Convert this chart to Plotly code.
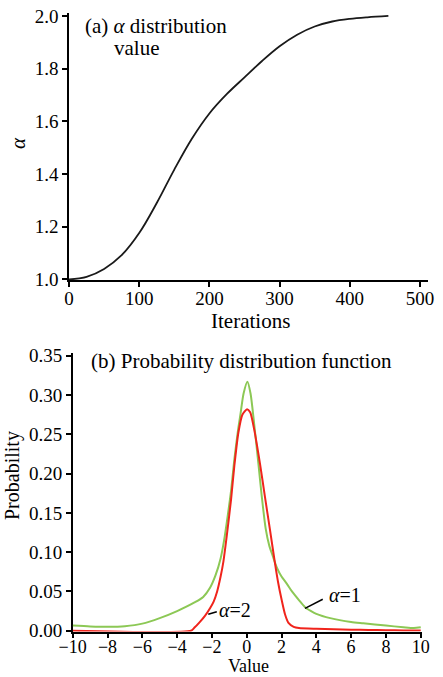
import plotly.graph_objects as go

W, H = 443, 677

# ---------------- data ----------------
iterations = [0, 25, 50, 75, 100, 125, 150, 175, 200, 225, 250, 275, 300, 325, 350, 375, 400, 425, 455]
alpha_vals = [1.000, 1.010, 1.040, 1.092, 1.176, 1.290, 1.417, 1.534, 1.630, 1.704, 1.767, 1.829,
              1.885, 1.929, 1.960, 1.979, 1.989, 1.995, 2.000]

green_x = [-10, -9, -8, -7, -6, -5, -4, -3, -2.5, -2.1, -1.8, -1.5, -1.3, -1.1, -0.9, -0.7, -0.5,
           -0.35, -0.18, 0.04, 0.22, 0.42, 0.67, 0.86, 1.09, 1.3, 1.5, 1.72, 2.0, 2.3, 2.6, 3.0,
           3.35, 3.7, 4.0, 4.8, 6.0, 6.7, 8.0, 9.0, 9.6, 10]
green_y = [0.0065, 0.0055, 0.005, 0.0058, 0.009, 0.016, 0.025, 0.036, 0.043, 0.055, 0.070, 0.092,
           0.115, 0.145, 0.178, 0.220, 0.255, 0.277, 0.302, 0.317, 0.302, 0.265, 0.213, 0.172,
           0.130, 0.108, 0.095, 0.081, 0.069, 0.060, 0.050, 0.039, 0.030, 0.025, 0.0215, 0.016,
           0.011, 0.0094, 0.0065, 0.0045, 0.0035, 0.0045]

red_x = [-10, -3.2, -3.0, -2.7, -2.4, -2.1, -1.9, -1.7, -1.5, -1.34, -1.15, -0.9, -0.71, -0.48,
         -0.25, 0.02, 0.2, 0.44, 0.76, 1.05, 1.34, 1.63, 1.8, 2.01, 2.2, 2.4, 2.7, 3.0, 4.0, 5.0,
         6.0, 7.0, 8.0, 9.0, 10]
red_y = [0, 0, 0.004, 0.011, 0.019, 0.029, 0.037, 0.050, 0.069, 0.088, 0.120, 0.167, 0.210, 0.252,
         0.275, 0.282, 0.278, 0.255, 0.213, 0.170, 0.128, 0.085, 0.062, 0.039, 0.021, 0.010,
         0.005, 0.0035, 0.0025, 0.0018, 0.0013, 0.001, 0.0007, 0.0004, 0.0002]

top_xticks = [0, 100, 200, 300, 400, 500]
top_yticks = [1.0, 1.2, 1.4, 1.6, 1.8, 2.0]
bot_xticks = [-10, -8, -6, -4, -2, 0, 2, 4, 6, 8, 10]
bot_yticks = [0.0, 0.05, 0.10, 0.15, 0.20, 0.25, 0.30, 0.35]

GREEN = "#8cc855"
RED = "#f0241c"
FONT = "Liberation Serif"


def px_x(p):
    return p / W


def px_y(p):
    return 1 - p / H


fig = go.Figure()
fig.add_trace(go.Scatter(x=iterations, y=alpha_vals, mode="lines",
                         line=dict(color="#1a1a1a", width=1.8, shape="spline", smoothing=1.0),
                         xaxis="x", yaxis="y", showlegend=False, hoverinfo="skip"))
fig.add_trace(go.Scatter(x=green_x, y=green_y, mode="lines",
                         line=dict(color=GREEN, width=2, shape="spline", smoothing=0.7),
                         xaxis="x2", yaxis="y2", showlegend=False, hoverinfo="skip"))
fig.add_trace(go.Scatter(x=red_x, y=red_y, mode="lines",
                         line=dict(color=RED, width=2, shape="spline", smoothing=0.6),
                         xaxis="x2", yaxis="y2", showlegend=False, hoverinfo="skip"))

axis_common = dict(showline=True, linecolor="black", linewidth=1.5, ticks="outside", ticklen=5,
                   tickwidth=1.5, tickcolor="black", showgrid=False, zeroline=False,
                   automargin=False, fixedrange=True)
tick19 = dict(family=FONT, size=19, color="black")

fig.update_layout(
    width=W, height=H, autosize=False,
    margin=dict(l=0, r=0, t=0, b=0, pad=0),
    paper_bgcolor="white", plot_bgcolor="white",
    xaxis=dict(domain=[px_x(69), px_x(428.4)], range=[0, 512], tickvals=top_xticks,
               anchor="y", ticklabelstandoff=-5, tickfont=tick19, **axis_common),
    yaxis=dict(domain=[px_y(280), px_y(12.8)], range=[0.998, 2.012], tickvals=top_yticks,
               ticktext=[f"{v:.1f}" for v in top_yticks], anchor="x", tickfont=tick19,
               **axis_common),
    xaxis2=dict(domain=[px_x(72.7), px_x(421.6)], range=[-10, 10.05], tickvals=bot_xticks,
                anchor="y2", layer="below traces", ticklabelstandoff=-7,
                tickfont=dict(family=FONT, size=18, color="black"), **axis_common),
    yaxis2=dict(domain=[px_y(631.5), px_y(353.4)], range=[-0.001, 0.353], tickvals=bot_yticks,
                tickformat=".2f", anchor="x2", layer="below traces", tickfont=tick19,
                **axis_common),
)

tf = dict(family=FONT, size=21, color="black")
lf = dict(family=FONT, size=20, color="black")
ann = [
    dict(text="(a) <i>α</i> distribution", x=px_x(83), y=px_y(26), xanchor="left"),
    dict(text="value", x=px_x(112), y=px_y(48), xanchor="left"),
    dict(text="Iterations", x=px_x(250), y=px_y(321), xanchor="center"),
    dict(text="<i>α</i>", x=px_x(18), y=px_y(143), xanchor="center", textangle=-90),
    dict(text="(b) Probability distribution function", x=px_x(89), y=px_y(361), xanchor="left"),
    dict(text="Probability", x=px_x(12), y=px_y(476), xanchor="center", textangle=-90,
         font=dict(family=FONT, size=20, color="black")),
    dict(text="Value", x=px_x(248), y=px_y(666), xanchor="center",
         font=dict(family=FONT, size=18, color="black")),
]
annotations = []
for a in ann:
    d = dict(xref="paper", yref="paper", yanchor="middle", showarrow=False, font=tf)
    d.update(a)
    annotations.append(d)

annotations.append(dict(text="<i>α</i>=2", x=-0.67, y=0.027, xref="x2", yref="y2",
                        xanchor="center", yanchor="middle", showarrow=False, font=lf))
annotations.append(dict(text="<i>α</i>=1", x=5.65, y=0.0454, xref="x2", yref="y2",
                        xanchor="center", yanchor="middle", showarrow=False, font=lf))
fig.update_layout(annotations=annotations)

fig.add_shape(type="line", x0=-2.21, y0=0.0209, x1=-1.72, y1=0.0242, xref="x2", yref="y2",
              line=dict(color="black", width=1.5))
fig.add_shape(type="line", x0=3.35, y0=0.0285, x1=4.37, y1=0.040, xref="x2", yref="y2",
              line=dict(color="black", width=1.5))

fig.write_html("out.html")
